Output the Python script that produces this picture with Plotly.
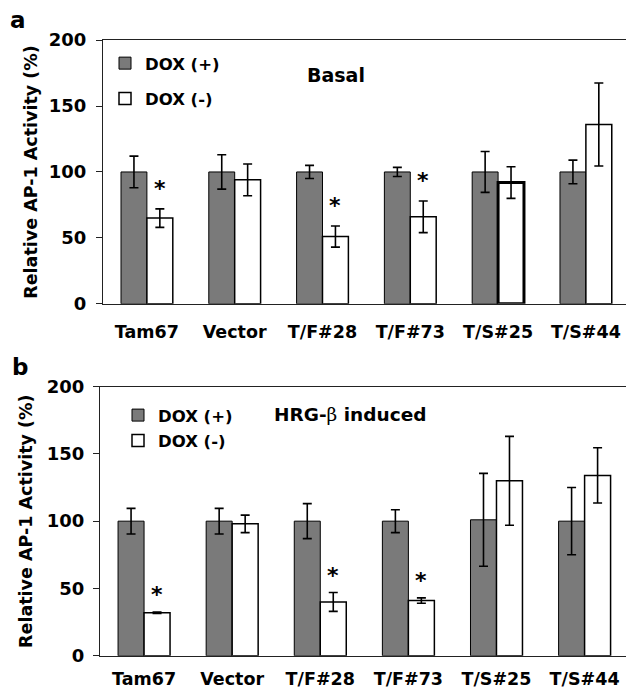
import plotly.graph_objects as go

categories = ["Tam67", "Vector", "T/F#28", "T/F#73", "T/S#25", "T/S#44"]

# Panel a (Basal)
basal_dox_plus = [100, 100, 100, 100, 100, 100]
basal_dox_plus_err = [12, 13, 5, 3.5, 15.5, 9]
basal_dox_minus = [65, 94, 51, 66, 92, 136]
basal_dox_minus_err = [7, 12, 8, 12, 12, 31.5]
basal_star = [True, False, True, True, False, False]

# Panel b (HRG-beta induced)
hrg_dox_plus = [100, 100, 100, 100, 101, 100]
hrg_dox_plus_err = [9.5, 9.5, 13, 8.5, 34.5, 25]
hrg_dox_minus = [32, 98, 40, 41, 130, 134]
hrg_dox_minus_err = [0.5, 6.5, 7, 2, 33, 20.5]
hrg_star = [True, False, True, True, False, False]

yticks = [0, 50, 100, 150, 200]

W, H = 626, 691
GRAY = "#7a7a7a"
FONT = "DejaVu Sans"
BARGAP = 0.41

fig = go.Figure()

def add_panel(xa, ya, plus, plus_err, minus, minus_err, legend, minus_lw):
    fig.add_trace(go.Bar(
        x=categories, y=plus, name="DOX (+)", xaxis=xa, yaxis=ya,
        marker=dict(color=GRAY, line=dict(color="black", width=1)),
        error_y=dict(type="data", array=plus_err, color="black", thickness=1.6, width=4.5),
        legend=legend, legendgroup=legend + "p", showlegend=True,
    ))
    fig.add_trace(go.Bar(
        x=categories, y=minus, name="DOX (-)", xaxis=xa, yaxis=ya,
        marker=dict(color="white", line=dict(color="black", width=minus_lw)),
        error_y=dict(type="data", array=minus_err, color="black", thickness=1.6, width=4.5),
        legend=legend, legendgroup=legend + "m", showlegend=True,
    ))

add_panel("x", "y", basal_dox_plus, basal_dox_plus_err, basal_dox_minus, basal_dox_minus_err,
          "legend", [1.5, 1.5, 1.5, 1.5, 3, 1.5])
add_panel("x2", "y2", hrg_dox_plus, hrg_dox_plus_err, hrg_dox_minus, hrg_dox_minus_err,
          "legend2", 1.5)

annotations = []
off = (1 - BARGAP) / 4
for i, s in enumerate(basal_star):
    if s:
        annotations.append(dict(x=i + off, y=basal_dox_minus[i] + basal_dox_minus_err[i],
                                xref="x", yref="y", text="*", showarrow=False,
                                yanchor="bottom", yshift=6, font=dict(size=22)))
for i, s in enumerate(hrg_star):
    if s:
        annotations.append(dict(x=i + off, y=hrg_dox_minus[i] + hrg_dox_minus_err[i],
                                xref="x2", yref="y2", text="*", showarrow=False,
                                yanchor="bottom", yshift=3, font=dict(size=22)))

annotations += [
    dict(x=18 / W, y=1 - 9 / H, xref="paper", yref="paper", text="a", showarrow=False,
         xanchor="center", yanchor="middle", font=dict(size=23)),
    dict(x=20 / W, y=1 - 367 / H, xref="paper", yref="paper", text="b", showarrow=False,
         xanchor="center", yanchor="middle", font=dict(size=23)),
    dict(x=305 / W, y=1 - 66 / H, xref="paper", yref="paper", text="Basal", showarrow=False,
         xanchor="left", yanchor="middle", font=dict(size=19)),
    dict(x=272 / W, y=1 - 416 / H, xref="paper", yref="paper",
         text="HRG-<span style=\"font-family:'DejaVu Serif',serif;font-weight:normal\">β</span> induced",
         showarrow=False, xanchor="left", yanchor="middle", font=dict(size=18.5)),
]

top_dom = [(H - 302) / H, (H - 30) / H]
bot_dom = [(H - 665) / H, (H - 387.3) / H]

def xaxis(dom_left, rng, standoff, anchor):
    return dict(domain=[dom_left / W, 1], range=rng, type="category",
                showline=True, linecolor="#222", linewidth=1.3, mirror=True,
                ticks="", showgrid=False, zeroline=False, anchor=anchor,
                tickfont=dict(size=17.5), ticklabelstandoff=standoff)

def yaxis(dom, anchor, standoff, tstandoff):
    return dict(domain=dom, range=[0, 200], tickvals=yticks, ticks="outside", ticklen=6,
                tickwidth=1.3, tickcolor="#222", showline=True, linecolor="#222",
                linewidth=1.3, showgrid=False, zeroline=False, anchor=anchor,
                tickfont=dict(size=18), ticklabelstandoff=standoff,
                title=dict(text="Relative AP-1 Activity (%)", font=dict(size=17.5), standoff=tstandoff))

fig.update_layout(
    width=W, height=H, margin=dict(l=0, r=0, t=0, b=0),
    paper_bgcolor="white", plot_bgcolor="white",
    font=dict(family=FONT, weight="bold", color="black", size=17),
    barmode="group", bargap=BARGAP, bargroupgap=0,
    xaxis=xaxis(103, [-0.5, 5.457], 12, "y"),
    yaxis=yaxis(top_dom, "x", 6, 6),
    xaxis2=xaxis(100, [-0.5, 5.47], 7, "y2"),
    yaxis2=yaxis(bot_dom, "x2", 5, 9),
    legend=dict(x=105 / W, y=1 - 36 / H, xanchor="left", yanchor="top",
                font=dict(size=16.5), tracegroupgap=11, bgcolor="rgba(0,0,0,0)"),
    legend2=dict(x=118 / W, y=1 - 399 / H, xanchor="left", yanchor="top",
                 font=dict(size=16.5), tracegroupgap=1, bgcolor="rgba(0,0,0,0)"),
    annotations=annotations,
    showlegend=True,
)

fig.write_html("out.html")
